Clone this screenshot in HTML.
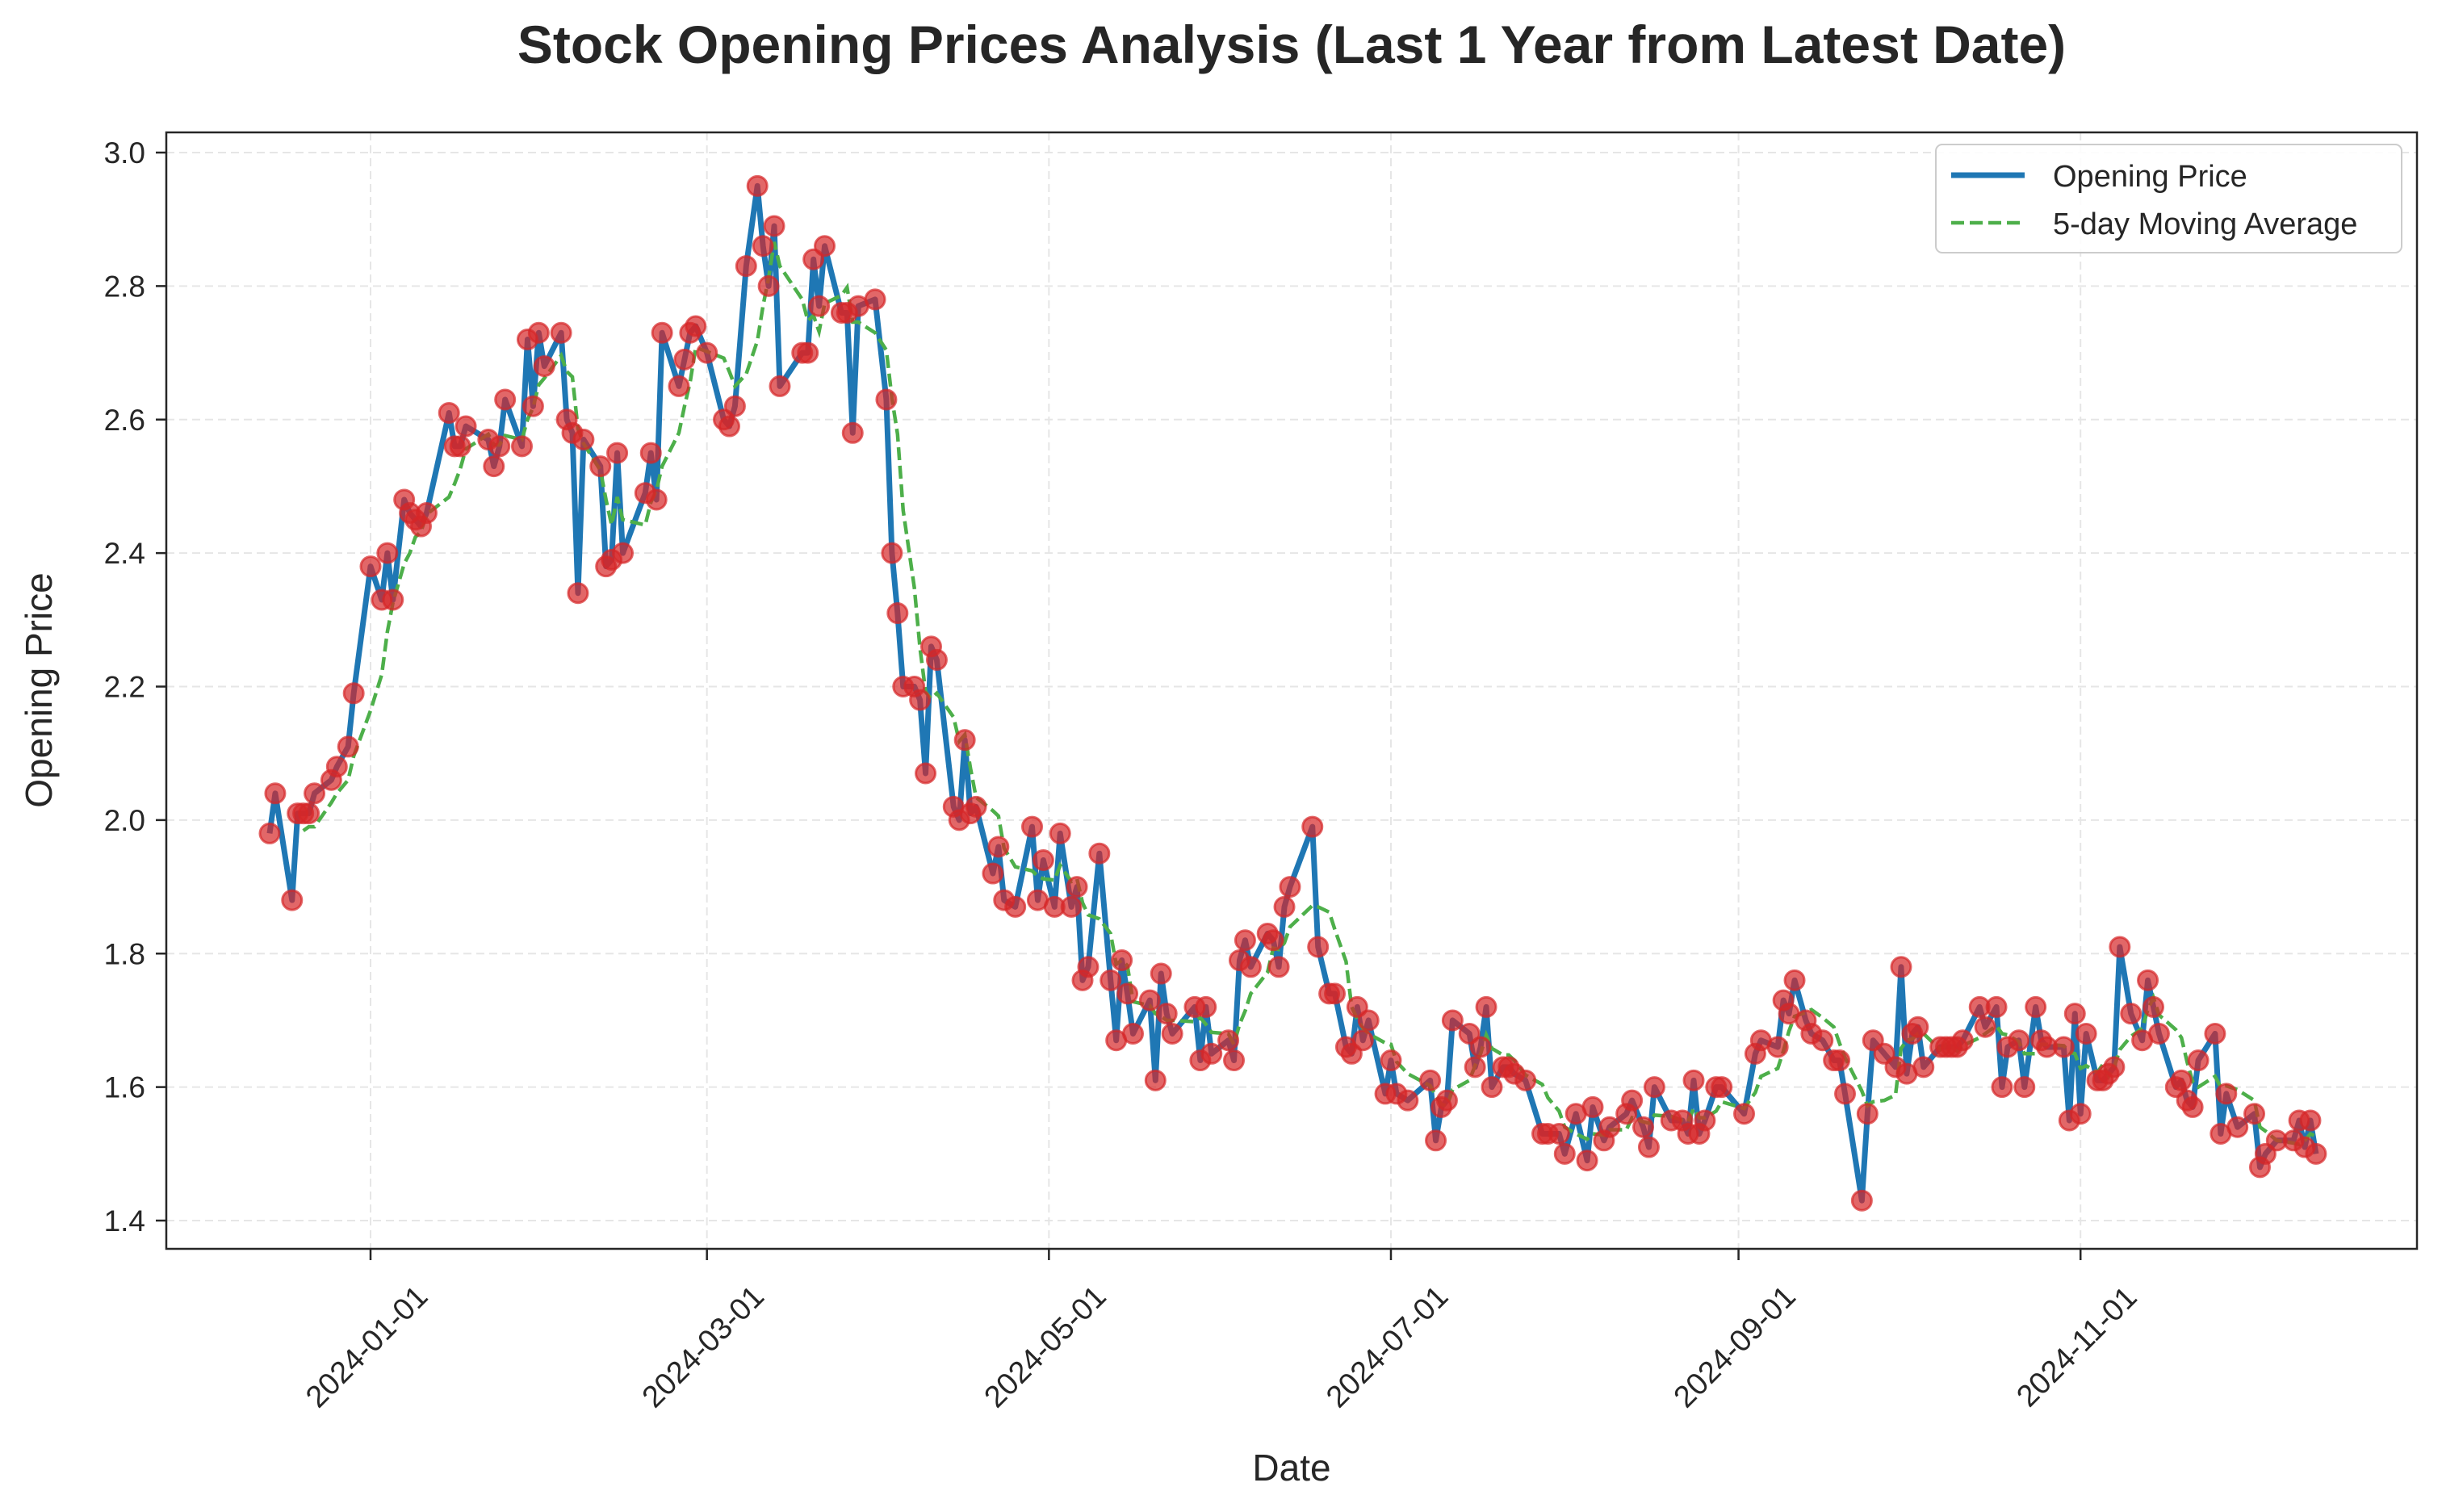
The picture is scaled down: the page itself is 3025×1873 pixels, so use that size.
<!DOCTYPE html>
<html><head><meta charset="utf-8"><style>
html,body{margin:0;padding:0;background:#fff}
svg{display:block;font-family:"Liberation Sans",Arial,sans-serif}
</style></head><body>
<svg id="chart" width="3025" height="1873" viewBox="0 0 3025 1873" xmlns="http://www.w3.org/2000/svg">
<rect width="3025" height="1873" fill="#fff"/>
<text x="1600" y="78" text-anchor="middle" font-size="66" font-weight="bold" fill="#262626">Stock Opening Prices Analysis (Last 1 Year from Latest Date)</text>
<g id="grid"></g>
<g id="series"></g>
<rect x="206" y="164" width="2788" height="1383" fill="none" stroke="#262626" stroke-width="2.5"/>
<g id="axes"></g>
<text transform="translate(64,855) rotate(-90)" text-anchor="middle" font-size="46" fill="#262626">Opening Price</text>
<text x="1600" y="1834" text-anchor="middle" font-size="46" fill="#262626">Date</text>
<g>
<rect x="2398" y="179" width="577" height="134" rx="8" fill="#fff" fill-opacity="0.85" stroke="#ccc" stroke-width="2"/>
<line x1="2417" y1="217" x2="2508" y2="217" stroke="#1f77b4" stroke-width="7"/>
<text x="2543" y="231" font-size="38" fill="#262626">Opening Price</text>
<line x1="2417" y1="276" x2="2508" y2="276" stroke="#4daf4a" stroke-width="4.5" stroke-dasharray="16,7"/>
<text x="2543" y="290" font-size="38" fill="#262626">5-day Moving Average</text>
</g>
</svg>
<script>
const days=[-18,-17,-14,-13,-12,-11,-10,-7,-6,-4,-3,0,2,3,4,6,7,8,9,10,14,15,16,17,21,22,23,24,27,28,29,30,31,34,35,36,37,38,41,42,43,44,45,49,50,51,52,55,56,57,58,60,63,64,65,67,69,70,71,72,73,77,78,79,80,81,84,85,86,87,90,92,93,94,95,97,98,99,100,101,104,105,106,107,108,111,112,113,115,118,119,120,122,123,125,126,127,128,130,132,133,134,135,136,139,140,141,142,143,147,148,149,150,153,154,155,156,157,160,161,162,163,164,168,169,171,172,174,175,176,177,178,181,182,183,185,189,190,191,192,193,196,197,198,199,200,202,203,204,206,209,210,212,213,215,217,218,220,221,224,225,227,228,229,232,234,235,236,237,238,240,241,245,247,248,251,252,253,254,256,257,259,261,262,263,266,267,268,270,272,273,274,275,276,277,280,281,282,283,284,287,288,290,291,292,294,295,297,298,299,302,303,304,305,306,308,309,310,311,312,314,316,317,318,319,322,323,324,325,326,329,330,331,333,336,337,338,340,343,344,345,346,347];
const prices=[1.98,2.04,1.88,2.01,2.01,2.01,2.04,2.06,2.08,2.11,2.19,2.38,2.33,2.40,2.33,2.48,2.46,2.45,2.44,2.46,2.61,2.56,2.56,2.59,2.57,2.53,2.56,2.63,2.56,2.72,2.62,2.73,2.68,2.73,2.60,2.58,2.34,2.57,2.53,2.38,2.39,2.55,2.40,2.49,2.55,2.48,2.73,2.65,2.69,2.73,2.74,2.70,2.60,2.59,2.62,2.83,2.95,2.86,2.80,2.89,2.65,2.70,2.70,2.84,2.77,2.86,2.76,2.76,2.58,2.77,2.78,2.63,2.40,2.31,2.20,2.20,2.18,2.07,2.26,2.24,2.02,2.00,2.12,2.01,2.02,1.92,1.96,1.88,1.87,1.99,1.88,1.94,1.87,1.98,1.87,1.90,1.76,1.78,1.95,1.76,1.67,1.79,1.74,1.68,1.73,1.61,1.77,1.71,1.68,1.72,1.64,1.72,1.65,1.67,1.64,1.79,1.82,1.78,1.83,1.82,1.78,1.87,1.90,1.99,1.81,1.74,1.74,1.66,1.65,1.72,1.67,1.70,1.59,1.64,1.59,1.58,1.61,1.52,1.57,1.58,1.70,1.68,1.63,1.66,1.72,1.60,1.63,1.63,1.62,1.61,1.53,1.53,1.53,1.50,1.56,1.49,1.57,1.52,1.54,1.56,1.58,1.54,1.51,1.60,1.55,1.55,1.53,1.61,1.53,1.55,1.60,1.60,1.56,1.65,1.67,1.66,1.73,1.71,1.76,1.70,1.68,1.67,1.64,1.64,1.59,1.43,1.56,1.67,1.65,1.63,1.78,1.62,1.68,1.69,1.63,1.66,1.66,1.66,1.66,1.67,1.72,1.69,1.72,1.60,1.66,1.67,1.60,1.72,1.67,1.66,1.66,1.55,1.71,1.56,1.68,1.61,1.61,1.62,1.63,1.81,1.71,1.67,1.76,1.72,1.68,1.60,1.61,1.58,1.57,1.64,1.68,1.53,1.59,1.54,1.56,1.48,1.50,1.52,1.52,1.55,1.51,1.55,1.50];
const yTicks=[1.4,1.6,1.8,2.0,2.2,2.4,2.6,2.8,3.0];
const xTickDays=[0,60,121,182,244,305];
const xTickLabels=["2024-01-01","2024-03-01","2024-05-01","2024-07-01","2024-09-01","2024-11-01"];

const NS="http://www.w3.org/2000/svg";
const X=d=>459+d*6.945;
const Y=v=>189+(3.0-v)/1.6*1323;
function mk(tag,attrs,parent){const e=document.createElementNS(NS,tag);for(const k in attrs)e.setAttribute(k,attrs[k]);parent.appendChild(e);return e;}
const grid=document.getElementById('grid'),axes=document.getElementById('axes'),ser=document.getElementById('series');
yTicks.forEach(t=>{
  const g=mk('line',{x1:206,x2:2994,y1:Y(t),y2:Y(t),stroke:'#e6e6e6','stroke-width':2,'stroke-dasharray':'10,6'},grid);
  
  
  mk('line',{x1:193,x2:206,y1:Y(t),y2:Y(t),stroke:'#262626','stroke-width':2.5},axes);
  const tx=mk('text',{x:180,y:Y(t)+13,'text-anchor':'end','font-size':37,fill:'#262626'},axes);
  tx.textContent=t.toFixed(1);
  
  
});
xTickDays.forEach((d,i)=>{
  const g=mk('line',{x1:X(d),x2:X(d),y1:164,y2:1547,stroke:'#e6e6e6','stroke-width':2,'stroke-dasharray':'10,6'},grid);
  
  
  mk('line',{x1:X(d),x2:X(d),y1:1547,y2:1561,stroke:'#262626','stroke-width':2.5},axes);
  const tx=mk('text',{x:0,y:13,'text-anchor':'middle','font-size':38,fill:'#262626',transform:`translate(${X(d)-5},${1668}) rotate(-45)`},axes);
  tx.textContent=xTickLabels[i];
  
  
});
const pl=mk('polyline',{points:days.map((d,i)=>X(d)+','+Y(prices[i])).join(' '),fill:'none',stroke:'#1f77b4','stroke-width':7,'stroke-linejoin':'round'},ser);


const ma=[];
for(let i=4;i<prices.length;i++){let s=0;for(let j=i-4;j<=i;j++)s+=prices[j];ma.push(X(days[i])+','+Y(s/5));}
const ml=mk('polyline',{points:ma.join(' '),fill:'none',stroke:'#4daf4a','stroke-width':4.5,'stroke-dasharray':'16,7'},ser);


days.forEach((d,i)=>{
  const c=mk('circle',{cx:X(d),cy:Y(prices[i]),r:12,fill:'#d62728','fill-opacity':0.7,stroke:'#d62728','stroke-opacity':0.7,'stroke-width':3},ser);
  
  
});
</script>
</body></html>
